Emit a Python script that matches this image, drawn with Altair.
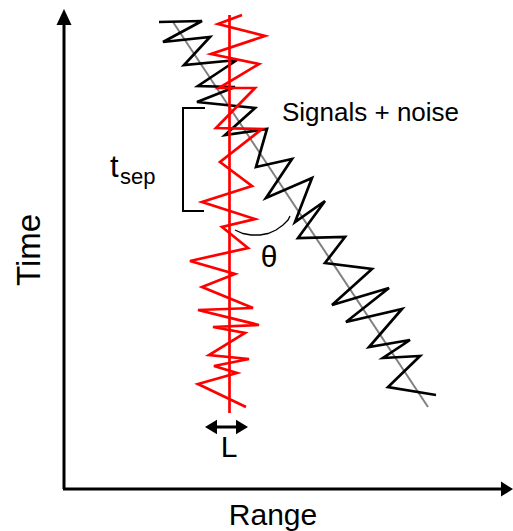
import altair as alt
import pandas as pd

W, H = 513, 531

# ---- data (diagram coordinates) ----
red_x = [242, 218, 265, 211, 259, 219, 255, 216, 262, 220, 252, 202, 255, 222, 248, 190,
         235, 202, 253, 198, 259, 213, 245, 209, 249, 214, 237, 198, 246]
red_y = [15, 24, 36, 54, 64, 88, 88, 128, 129, 162, 186, 202, 219, 227, 248, 261,
         274, 287, 308, 310, 325, 327, 333, 355, 359, 366, 373, 384, 407]

black_x = [159, 202, 163, 210, 184, 237, 198, 235, 197, 255, 225, 267, 256, 292, 266, 312,
           295, 325, 298, 345, 325, 372, 332, 389, 346, 402, 369, 410, 383, 420, 388, 436]
black_y = [22, 21, 42, 37, 65, 60, 86, 87, 102, 108, 135, 129, 167, 159, 198, 178,
           222, 201, 238, 237, 263, 269, 305, 288, 322, 309, 347, 340, 358, 356, 387, 395]

gray_x = [173, 428]
gray_y = [22, 407]

redv_x = [229.5, 229.5]
redv_y = [15, 413]

bracket_x = [205, 183, 183, 204]
bracket_y = [108, 108, 211, 211]

arc_x = [235, 243, 251, 260, 268, 276, 283, 288, 290]
arc_y = [230, 233.5, 235, 235, 233.5, 230, 225, 220, 216]

yaxis_x = [64, 64]
yaxis_y = [489, 20]
xaxis_x = [63, 505]
xaxis_y = [489, 489]
larrow_x = [208, 245]
larrow_y = [427, 427]

heads = pd.DataFrame({
    "x": [64, 507, 211, 242],
    "y": [17, 489, 427, 427],
    "kind": ["up", "right", "left", "right2"],
})

labels = pd.DataFrame({
    "x": [282, 110, 120, 269, 229, 273],
    "y": [121, 177, 184, 267, 457, 525],
    "text": ["Signals + noise", "t", "sep", "θ", "L", "Range"],
})

X = alt.X("x:Q", scale=alt.Scale(domain=[0, W], nice=False, zero=False), axis=None)
Y = alt.Y("y:Q", scale=alt.Scale(domain=[0, H], nice=False, zero=False, reverse=True), axis=None)


def path(xs, ys):
    return pd.DataFrame({"x": xs, "y": ys, "o": list(range(len(xs)))})


def line(xs, ys, color, width):
    return alt.Chart(path(xs, ys)).mark_line(color=color, strokeWidth=width, strokeJoin="miter").encode(
        x=X, y=Y, order="o:Q")


layers = [
    line(gray_x, gray_y, "#808080", 2),
    line(black_x, black_y, "black", 2.7),
    line(red_x, red_y, "#ff0000", 2.7),
    line(redv_x, redv_y, "#ff0000", 2.7),
    line(bracket_x, bracket_y, "black", 2),
    line(arc_x, arc_y, "black", 1.3),
    line(yaxis_x, yaxis_y, "black", 3),
    line(xaxis_x, xaxis_y, "black", 3),
    line(larrow_x, larrow_y, "black", 3),
]

shapes = {
    "up": ("M0,-1L0.94,1L-0.94,1Z", 256),
    "right": ("M1,0L-1,1.25L-1,-1.25Z", 144),
    "left": ("M-1,0L1,1.2L1,-1.2Z", 144),
    "right2": ("M1,0L-1,1.2L-1,-1.2Z", 144),
}
for k, (shp, sz) in shapes.items():
    layers.append(
        alt.Chart(heads[heads.kind == k]).mark_point(
            shape=shp, size=sz, filled=True, color="black", opacity=1, strokeWidth=0
        ).encode(x=X, y=Y)
    )

font = "Liberation Sans"
sizes = {"Signals + noise": 26, "t": 31, "sep": 22, "θ": 30, "L": 30, "Range": 30}
aligns = {"Signals + noise": "left", "t": "left", "sep": "left", "θ": "center", "L": "center", "Range": "center"}
for t, s in sizes.items():
    layers.append(
        alt.Chart(labels[labels.text == t]).mark_text(
            font=font, fontSize=s, align=aligns[t], baseline="alphabetic", color="black"
        ).encode(x=X, y=Y, text="text:N")
    )

time_df = pd.DataFrame({"x": [40], "y": [250], "text": ["Time"]})
layers.append(
    alt.Chart(time_df).mark_text(
        font=font, fontSize=33, angle=270, align="center", baseline="alphabetic", color="black"
    ).encode(x=X, y=Y, text="text:N")
)

chart = alt.layer(*layers).properties(
    width=W, height=H, padding=0, autosize=alt.AutoSizeParams(type="none"),
    background="white",
).configure_view(stroke=None)

chart.save("out.html", embed_options={"renderer": "svg", "actions": False})
